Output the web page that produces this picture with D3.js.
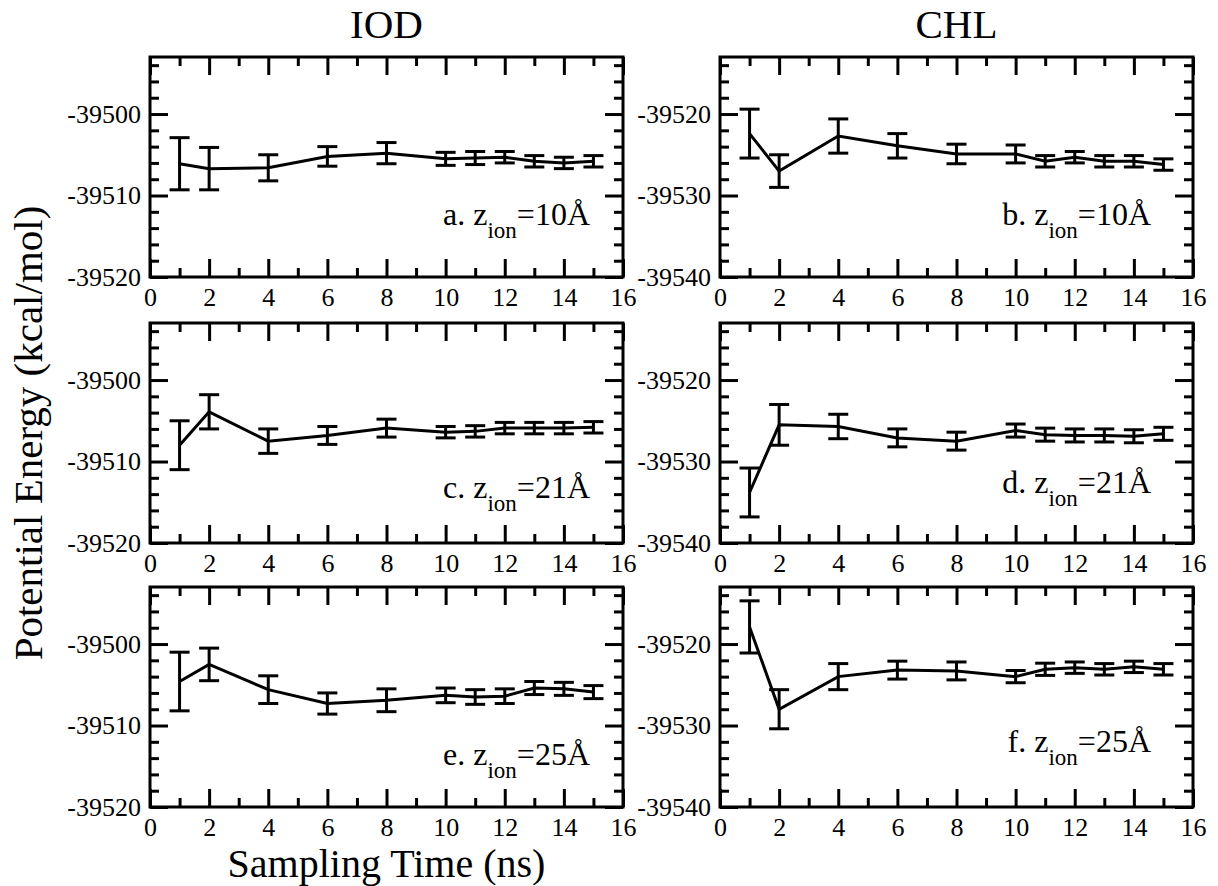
<!DOCTYPE html>
<html>
<head>
<meta charset="utf-8">
<script src="https://cdn.jsdelivr.net/npm/d3@7"></script>
<style>
  body { margin: 0; background: #fff; }
</style>
</head>
<body>
<div id="chart"></div>
<script>
var serif = "'Liberation Serif', 'DejaVu Serif', 'Times New Roman', Times, serif";

// sampling times (ns)
var times = [1, 2, 4, 6, 8, 10, 11, 12, 13, 14, 15];

// IOD, z_ion = 10, 21, 25
var iod10 = [-39506.1, -39506.7, -39506.6, -39505.2, -39504.8, -39505.5, -39505.4, -39505.3, -39505.8, -39506.0, -39505.8];
var iod10Err = [3.2, 2.6, 1.6, 1.2, 1.3, 0.8, 0.8, 0.7, 0.7, 0.7, 0.7];
var iod21 = [-39508.0, -39503.9, -39507.5, -39506.8, -39505.9, -39506.4, -39506.3, -39505.9, -39505.9, -39505.9, -39505.8];
var iod21Err = [3.0, 2.1, 1.5, 1.1, 1.1, 0.7, 0.7, 0.7, 0.7, 0.7, 0.7];
var iod25 = [-39504.6, -39502.5, -39505.6, -39507.3, -39506.9, -39506.3, -39506.5, -39506.4, -39505.4, -39505.5, -39505.9];
var iod25Err = [3.6, 2.0, 1.7, 1.3, 1.4, 0.9, 0.9, 0.9, 0.8, 0.8, 0.8];

// CHL, z_ion = 10, 21, 25
var chl10 = [-39522.4, -39527.0, -39522.7, -39523.9, -39524.9, -39524.9, -39525.8, -39525.3, -39525.8, -39525.8, -39526.2];
var chl10Err = [3.0, 2.0, 2.1, 1.5, 1.2, 1.1, 0.7, 0.7, 0.7, 0.7, 0.7];
var chl21 = [-39533.8, -39525.5, -39525.7, -39527.1, -39527.5, -39526.2, -39526.7, -39526.8, -39526.8, -39526.9, -39526.6];
var chl21Err = [3.0, 2.5, 1.5, 1.1, 1.1, 0.8, 0.8, 0.8, 0.8, 0.8, 0.8];
var chl25 = [-39517.9, -39528.0, -39524.0, -39523.2, -39523.3, -39524.0, -39523.1, -39522.9, -39523.1, -39522.8, -39523.1];
var chl25Err = [3.2, 2.4, 1.6, 1.1, 1.1, 0.75, 0.75, 0.7, 0.7, 0.7, 0.7];

// axis settings
var xDomain = [0, 16];
var xMajor = [0, 2, 4, 6, 8, 10, 12, 14, 16];
var xMinor = [1, 3, 5, 7, 9, 11, 13, 15];
var iodDomain = [-39520, -39493];
var chlDomain = [-39540, -39513];

var columnTitles = ["IOD", "CHL"];
var panelLetters = ["a", "b", "c", "d", "e", "f"];
var zValues = ["10", "10", "21", "21", "25", "25"];

var panels = [
    {y: iod10, err: iod10Err, domain: iodDomain},
    {y: chl10, err: chl10Err, domain: chlDomain},
    {y: iod21, err: iod21Err, domain: iodDomain},
    {y: chl21, err: chl21Err, domain: chlDomain},
    {y: iod25, err: iod25Err, domain: iodDomain},
    {y: chl25, err: chl25Err, domain: chlDomain}
];

// layout
var W = 1218, H = 886;
var colX = [150, 720];
var rowY = [57, 323, 587];
var pw = 473, ph = 220;
var labelRight = [33, 42];                  // annotation distance from right frame
var labelBase = [168, 168, 175, 170, 178, 165]; // annotation baseline from panel top

var svg = d3.select("#chart")
        .append("svg")
        .attr("width", W)
        .attr("height", H);

panels.forEach(function (p, i) {
    var col = i % 2, row = Math.floor(i / 2);
    var g = svg.append("g")
            .attr("transform", "translate(" + colX[col] + "," + rowY[row] + ")");

    var x = d3.scaleLinear().domain(xDomain).range([0, pw]);
    var y = d3.scaleLinear().domain(p.domain).range([ph, 0]);

    var lo = p.domain[0];
    var yMajor = [lo, lo + 10, lo + 20];
    var yMinor = d3.range(lo + 2, p.domain[1], 2).filter(function (v) {
        return (v - lo) % 10 !== 0;
    });

    // ticks, all pointing inwards
    function tickGroup(axis, transform) {
        var a = g.append("g").attr("transform", transform).call(axis);
        a.select(".domain").remove();
        a.selectAll(".tick line").attr("stroke", "#000").attr("stroke-width", 3);
        a.selectAll("text")
                .style("font-family", serif)
                .style("font-size", "26px")
                .attr("fill", "#000");
        return a;
    }
    var plain = function (d) { return "" + d; };

    tickGroup(d3.axisBottom(x).tickValues(xMajor).tickSize(-18).tickPadding(11)
            .tickFormat(plain), "translate(0," + ph + ")");
    tickGroup(d3.axisBottom(x).tickValues(xMinor).tickSize(-9).tickFormat(""), "translate(0," + ph + ")");
    tickGroup(d3.axisTop(x).tickValues(xMajor).tickSize(-18).tickFormat(""), "translate(0,0)");
    tickGroup(d3.axisTop(x).tickValues(xMinor).tickSize(-9).tickFormat(""), "translate(0,0)");

    tickGroup(d3.axisLeft(y).tickValues(yMajor).tickSize(-18).tickPadding(9)
            .tickFormat(plain), "translate(0,0)");
    tickGroup(d3.axisLeft(y).tickValues(yMinor).tickSize(-9).tickFormat(""), "translate(0,0)");
    tickGroup(d3.axisRight(y).tickValues(yMajor).tickSize(-18).tickFormat(""), "translate(" + pw + ",0)");
    tickGroup(d3.axisRight(y).tickValues(yMinor).tickSize(-9).tickFormat(""), "translate(" + pw + ",0)");

    // frame
    g.append("rect")
            .attr("width", pw)
            .attr("height", ph)
            .attr("fill", "none")
            .attr("stroke", "#000")
            .attr("stroke-width", 3);

    var pts = times.map(function (t, k) {
        return {t: t, v: p.y[k], e: p.err[k]};
    });

    // line
    var line = d3.line()
            .x(function (d) { return x(d.t); })
            .y(function (d) { return y(d.v); });
    g.append("path")
            .datum(pts)
            .attr("d", line)
            .attr("fill", "none")
            .attr("stroke", "#000")
            .attr("stroke-width", 3);

    // error bars
    var cap = 10;
    var bars = g.selectAll(".err")
            .data(pts)
            .enter()
            .append("g")
            .attr("class", "err")
            .attr("stroke", "#000")
            .attr("stroke-width", 3);
    bars.append("line")
            .attr("x1", function (d) { return x(d.t); })
            .attr("x2", function (d) { return x(d.t); })
            .attr("y1", function (d) { return y(d.v - d.e); })
            .attr("y2", function (d) { return y(d.v + d.e); });
    bars.append("line")
            .attr("x1", function (d) { return x(d.t) - cap; })
            .attr("x2", function (d) { return x(d.t) + cap; })
            .attr("y1", function (d) { return y(d.v + d.e); })
            .attr("y2", function (d) { return y(d.v + d.e); });
    bars.append("line")
            .attr("x1", function (d) { return x(d.t) - cap; })
            .attr("x2", function (d) { return x(d.t) + cap; })
            .attr("y1", function (d) { return y(d.v - d.e); })
            .attr("y2", function (d) { return y(d.v - d.e); });

    // panel annotation
    var lab = g.append("text")
            .attr("x", pw - labelRight[col])
            .attr("y", labelBase[i])
            .attr("text-anchor", "end")
            .style("font-family", serif)
            .style("font-size", "32px");
    lab.append("tspan").text(panelLetters[i] + ". z");
    lab.append("tspan").attr("dy", 13).style("font-size", "23px").text("ion");
    lab.append("tspan").attr("dy", -13).text("=" + zValues[i] + "\u00C5");
});

// column titles
columnTitles.forEach(function (t, c) {
    svg.append("text")
            .attr("x", colX[c] + pw / 2)
            .attr("y", 38)
            .attr("text-anchor", "middle")
            .style("font-family", serif)
            .style("font-size", "41px")
            .text(t);
});

// axis titles
svg.append("text")
        .attr("transform", "translate(42,433) rotate(-90)")
        .attr("text-anchor", "middle")
        .style("font-family", serif)
        .style("font-size", "41px")
        .text("Potential Energy (kcal/mol)");

svg.append("text")
        .attr("x", colX[0] + pw / 2)
        .attr("y", 877)
        .attr("text-anchor", "middle")
        .style("font-family", serif)
        .style("font-size", "40px")
        .text("Sampling Time (ns)");
</script>
</body>
</html>
